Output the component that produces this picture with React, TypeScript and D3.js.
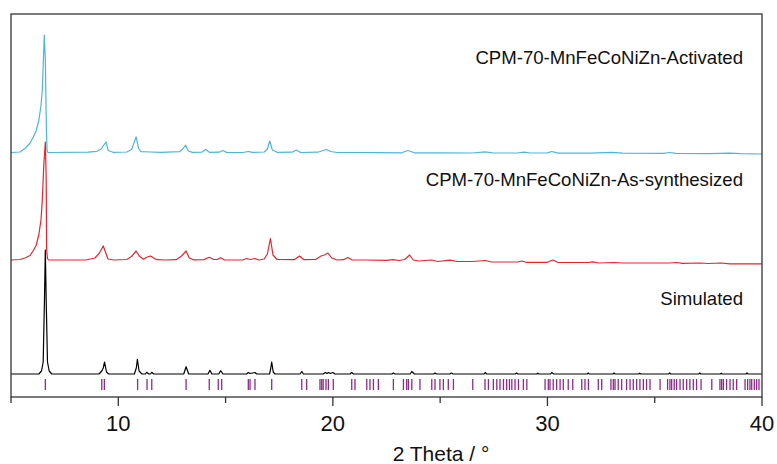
import React from "react";
import * as d3 from "d3";

// ---------- data ----------
// x ticks (2 Theta / °)
const MAJOR_TICKS = [10, 20, 30, 40];
const MINOR_TICKS = [5, 15, 25, 35];
const X_DOMAIN: [number, number] = [5, 40];
const Y_DOMAIN: [number, number] = [0, 383]; // arbitrary intensity units

const LABELS = [
  "CPM-70-MnFeCoNiZn-Activated",
  "CPM-70-MnFeCoNiZn-As-synthesized",
  "Simulated",
];

// vertical offsets of the stacked patterns (a.u.)
const OFFSETS = [244.5, 137, 23];

// [2θ, intensity above own baseline]
const ACTIVATED: [number, number][] = [
  [5.0, 0], [5.42, 0.5], [5.65, 4], [5.89, 9.5], [6.04, 15.5], [6.17, 21.5], [6.3, 32.5],
  [6.4, 47.5], [6.46, 62.5], [6.51, 92.5], [6.55, 117.5], [6.6, 92.5], [6.65, 22.5],
  [6.68, 2.5], [6.72, 0], [8.6, 0.3], [9.0, 1.2], [9.2, 3.5], [9.43, 10.6], [9.53, 2],
  [9.75, 0.2], [10.4, 0.5], [10.62, 3], [10.83, 15.6], [10.95, 4], [11.05, 0.8], [11.5, 0.5],
  [12.0, 0.1], [12.85, 0.8], [13.0, 3.5], [13.14, 7.3], [13.26, 1.5], [13.45, 0.1],
  [13.9, 0.4], [14.07, 3], [14.25, 0.2], [14.7, 0.3], [14.87, 2], [15.05, 0.1], [15.8, 0],
  [16.06, 1], [16.25, 0.1], [16.8, 0.5], [16.95, 3.5], [17.06, 11.5], [17.18, 2.5], [17.4, 0.2],
  [18.1, 0.3], [18.3, 2.5], [18.5, 0], [19.3, 0.3], [19.55, 2], [19.7, 3], [19.9, 1],
  [20.2, 0], [21.0, 0], [22.0, -0.2], [23.2, -0.3], [23.5, 2], [23.8, -0.3], [25.0, -0.3],
  [26.5, -0.5], [27.1, 0.6], [27.5, -0.5], [28.6, -0.5], [28.9, 0.4], [29.2, -0.5],
  [30.0, -0.4], [30.2, 1], [30.5, -0.6], [32.0, -0.6], [33.0, 0.2], [33.5, -0.7],
  [35.4, -0.8], [35.7, 0], [36.0, -0.9], [37.5, -1.1], [38.5, -0.7], [39.0, -1.2], [40.0, -1.5],
];

const AS_SYNTHESIZED: [number, number][] = [
  [5.0, 0], [5.42, 0.5], [5.65, 2], [5.89, 4.5], [6.04, 9.5], [6.17, 14.5], [6.3, 25.5],
  [6.4, 40.5], [6.46, 60.5], [6.53, 95.5], [6.6, 118], [6.64, 80.5], [6.66, 10.5], [6.7, 1.5],
  [6.75, 0], [8.5, 0], [8.91, 2], [9.12, 7], [9.3, 14], [9.42, 7], [9.52, 1], [9.8, 0],
  [10.4, 0.5], [10.62, 3.5], [10.83, 9], [10.98, 4], [11.17, 0.8], [11.35, 3], [11.51, 4],
  [11.65, 2], [11.8, 0.3], [12.2, 0], [12.7, 0.3], [12.95, 4], [13.16, 9], [13.31, 2],
  [13.5, 0.2], [14.0, 0.4], [14.24, 2.7], [14.45, 0.5], [14.6, 0.5], [14.77, 2.3], [14.95, 0],
  [15.8, 0], [15.98, 1.5], [16.15, 0.5], [16.37, 1.5], [16.55, 0], [16.8, 1], [16.95, 6],
  [17.09, 21.5], [17.21, 5], [17.4, 0.5], [18.2, 0.3], [18.45, 4], [18.65, 0.3], [19.2, 0.5],
  [19.45, 4], [19.6, 5], [19.77, 7], [19.95, 2], [20.2, 0], [20.5, 0.3], [20.7, 2.5],
  [20.9, 0], [21.5, 0], [22.5, -0.3], [22.8, 0.3], [23.1, -0.5], [23.35, 0.5], [23.58, 5],
  [23.75, 0], [24.0, -1], [24.6, 0], [24.9, -1.5], [25.45, -0.2], [25.8, -1.5], [26.5, -1.5],
  [27.1, -0.5], [27.4, -2], [28.6, -2], [28.8, -1], [29.0, -2.3], [30.0, -2.3], [30.25, 0],
  [30.5, -2.5], [31.9, -2.5], [32.1, -1.8], [32.4, -3], [33.1, -2.5], [33.5, -3], [35.7, -3],
  [36.0, -2.5], [36.3, -3.3], [37.1, -3], [37.5, -3.5], [38.1, -3], [38.5, -3.8], [40.0, -3.8],
];

const SIMULATED: [number, number][] = [
  [5.0, 0], [6.3, 0], [6.42, 3], [6.5, 12], [6.56, 74], [6.6, 124], [6.64, 74], [6.7, 12],
  [6.78, 3], [6.9, 0], [9.1, 0], [9.23, 3], [9.3, 6], [9.36, 12], [9.45, 2], [9.55, 0],
  [10.75, 0], [10.84, 6], [10.89, 14.7], [10.97, 3], [11.1, 0], [11.27, 0], [11.32, 1.7],
  [11.42, 0], [11.5, 0], [11.56, 1.7], [11.65, 0], [13.05, 0], [13.16, 7.3], [13.28, 0],
  [14.18, 0], [14.27, 3.7], [14.36, 0], [14.68, 0], [14.77, 3.3], [14.88, 0], [15.98, 0],
  [16.06, 1.5], [16.14, 0.5], [16.37, 1.5], [16.45, 0], [17.05, 0], [17.1, 5], [17.15, 12],
  [17.22, 2], [17.3, 0], [18.47, 0], [18.55, 2.5], [18.63, 0], [19.55, 0], [19.65, 1.5],
  [19.73, 0.5], [19.8, 1.5], [19.88, 0.5], [20.0, 1.5], [20.1, 0], [20.8, 0], [20.88, 1.5],
  [20.96, 0], [22.75, 0], [22.82, 1], [22.9, 0], [23.6, 0], [23.68, 2.5], [23.8, 0],
  [24.7, 0], [24.76, 1], [24.83, 0], [25.45, 0], [25.52, 1], [25.6, 0], [27.05, 0],
  [27.1, 1.5], [27.16, 0], [28.5, 0], [28.56, 1], [28.62, 0], [29.5, 0], [29.55, 0.8],
  [29.6, 0], [30.15, 0], [30.2, 1.5], [30.3, 0], [31.85, 0], [31.9, 1], [31.95, 0],
  [33.05, 0], [33.1, 1], [33.15, 0], [34.25, 0], [34.3, 0.8], [34.35, 0], [35.65, 0],
  [35.7, 1], [35.75, 0], [37.05, 0], [37.1, 1], [37.15, 0], [38.05, 0], [38.1, 0.8],
  [38.15, 0], [39.25, 0], [39.3, 1], [39.35, 0], [40.0, 0],
];

// simulated reflection positions (2θ)
const REFLECTIONS = [
  6.6, 9.23, 9.35, 10.9, 11.34, 11.56, 13.16, 14.24, 14.66, 14.82, 16.06, 16.14, 16.37,
  17.15, 18.55, 18.78, 19.4, 19.48, 19.55, 19.68, 19.79, 20.02, 20.88, 21.03, 21.58, 21.73,
  21.89, 22.12, 22.82, 23.29, 23.44, 23.52, 23.68, 24.06, 24.61, 24.76, 24.99, 25.15, 25.38,
  25.62, 26.52, 27.09, 27.25, 27.48, 27.64, 27.79, 27.95, 28.1, 28.23, 28.34, 28.49, 28.65,
  28.88, 29.04, 29.89, 30.04, 30.12, 30.27, 30.43, 30.59, 30.74, 30.97, 31.18, 31.6, 31.75,
  31.91, 32.37, 32.53, 32.96, 33.07, 33.15, 33.3, 33.46, 33.69, 33.85, 34.0, 34.16, 34.31,
  34.47, 34.62, 34.78, 35.25, 35.6, 35.71, 35.79, 35.91, 36.02, 36.18, 36.33, 36.49, 36.64,
  36.8, 36.95, 37.16, 37.66, 38.04, 38.12, 38.2, 38.35, 38.51, 38.66, 38.82, 39.21, 39.33,
  39.44, 39.52, 39.64, 39.75, 39.86,
];

// ---------- layout ----------
const W = 777;
const H = 464;
const PLOT = { left: 11, right: 762, top: 14, bottom: 397 };
const COLORS = ["#4db6d8", "#e3262d", "#000000"];
const TICK_COLOR = "#8e2a8e";
const FONT = "'Liberation Sans', Arial, sans-serif";
const LABEL_Y = [64, 186, 305];

export default function App() {
  const x = d3.scaleLinear().domain(X_DOMAIN).range([PLOT.left, PLOT.right]);
  const y = d3.scaleLinear().domain(Y_DOMAIN).range([PLOT.bottom, PLOT.top]);
  const series = [ACTIVATED, AS_SYNTHESIZED, SIMULATED];

  const paths = series.map((s, i) =>
    d3
      .line<[number, number]>()
      .x((d) => x(d[0]))
      .y((d) => y(d[1] + OFFSETS[i]))(s) as string
  );

  return (
    <svg
      width={W}
      height={H}
      style={{ position: "absolute", left: 0, top: 0, background: "#fff" }}
      fontFamily={FONT}
    >
      <rect x={0} y={0} width={W} height={H} fill="#fff" />
      {paths.map((p, i) => (
        <path key={i} d={p} fill="none" stroke={COLORS[i]} strokeWidth={1.2} strokeLinejoin="round" />
      ))}
      {REFLECTIONS.map((r, i) => (
        <line
          key={i}
          x1={x(r)}
          x2={x(r)}
          y1={379}
          y2={390}
          stroke={TICK_COLOR}
          strokeWidth={1.3}
        />
      ))}
      {LABELS.map((l, i) => (
        <text key={l} x={743} y={LABEL_Y[i]} textAnchor="end" fontSize={18.6} fill="#111">
          {l}
        </text>
      ))}
      <rect
        x={PLOT.left}
        y={PLOT.top}
        width={PLOT.right - PLOT.left}
        height={PLOT.bottom - PLOT.top}
        fill="none"
        stroke="#333"
        strokeWidth={1.3}
      />
      {MAJOR_TICKS.map((t) => (
        <g key={t}>
          <line x1={x(t)} x2={x(t)} y1={PLOT.bottom} y2={PLOT.bottom + 9} stroke="#333" strokeWidth={1.3} />
          <text x={x(t)} y={431} textAnchor="middle" fontSize={22} fill="#111">
            {t}
          </text>
        </g>
      ))}
      {MINOR_TICKS.map((t) => (
        <line key={t} x1={x(t)} x2={x(t)} y1={PLOT.bottom} y2={PLOT.bottom + 6} stroke="#333" strokeWidth={1.3} />
      ))}
      <text x={441} y={461} textAnchor="middle" fontSize={21} fill="#111">
        2 Theta / °
      </text>
    </svg>
  );
}
